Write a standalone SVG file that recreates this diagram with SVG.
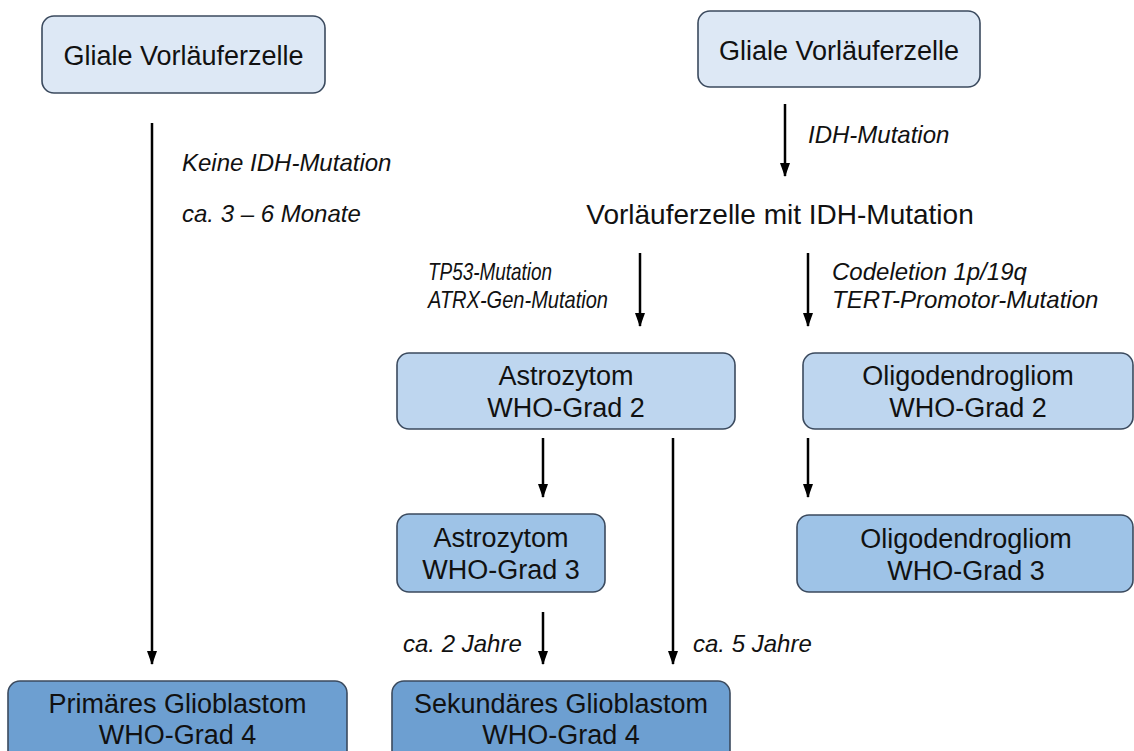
<svg xmlns="http://www.w3.org/2000/svg" width="1134" height="751" viewBox="0 0 1134 751">
<defs>
<marker id="ah" markerUnits="userSpaceOnUse" markerWidth="14" markerHeight="12" refX="13" refY="6" orient="auto" viewBox="0 0 14 12">
<path d="M0,1 L14,6 L0,11 Z" fill="#000"/>
</marker>
</defs>
<style>
.box{stroke:#3b4a5e;stroke-width:1.6}
.l0{fill:#dde8f5}
.l1{fill:#bed6ef}
.l2{fill:#9ec3e7}
.l3{fill:#6d9fd1}
.t{font-family:"Liberation Sans",Arial,sans-serif;font-size:27px;fill:#111;text-anchor:middle}
.lab{font-family:"Liberation Sans",Arial,sans-serif;font-size:24px;font-style:italic;fill:#111}
.arr{stroke:#000;stroke-width:2.5;fill:none}
</style>
<rect width="1134" height="751" fill="#fff"/>
<g id="n_glial_left">
<rect class="box l0" x="42" y="16" width="283" height="77" rx="12"/>
<text class="t" x="183.5" y="65">Gliale Vorläuferzelle</text>
</g>
<g id="n_glial_right">
<rect class="box l0" x="698" y="11" width="282" height="76" rx="12"/>
<text class="t" x="839" y="60">Gliale Vorläuferzelle</text>
</g>
<g id="n_idh">
<text class="t" x="780" y="224" style="font-size:28px">Vorläuferzelle mit IDH-Mutation</text>
</g>
<g id="n_astro2">
<rect class="box l1" x="397" y="353" width="338" height="76" rx="12"/>
<text class="t" x="566" y="385">Astrozytom</text>
<text class="t" x="566" y="417">WHO-Grad 2</text>
</g>
<g id="n_oligo2">
<rect class="box l1" x="803" y="353" width="330" height="76" rx="12"/>
<text class="t" x="968" y="385">Oligodendrogliom</text>
<text class="t" x="968" y="417">WHO-Grad 2</text>
</g>
<g id="n_astro3">
<rect class="box l2" x="397" y="514" width="208" height="78" rx="12"/>
<text class="t" x="501" y="547">Astrozytom</text>
<text class="t" x="501" y="579">WHO-Grad 3</text>
</g>
<g id="n_oligo3">
<rect class="box l2" x="797" y="515" width="336" height="77" rx="12"/>
<text class="t" x="966" y="548">Oligodendrogliom</text>
<text class="t" x="966" y="580">WHO-Grad 3</text>
</g>
<g id="n_prim">
<rect class="box l3" x="8" y="681" width="339" height="90" rx="12"/>
<text class="t" x="177.5" y="713">Primäres Glioblastom</text>
<text class="t" x="177.5" y="744">WHO-Grad 4</text>
</g>
<g id="n_sek">
<rect class="box l3" x="392" y="681" width="338" height="90" rx="12"/>
<text class="t" x="561" y="713">Sekundäres Glioblastom</text>
<text class="t" x="561" y="744">WHO-Grad 4</text>
</g>
<g id="connectors">
<line class="arr" x1="152" y1="123" x2="152" y2="664" marker-end="url(#ah)"/>
<line class="arr" x1="785" y1="104" x2="785" y2="176" marker-end="url(#ah)"/>
<line class="arr" x1="640" y1="253" x2="640" y2="326" marker-end="url(#ah)"/>
<line class="arr" x1="808" y1="253" x2="808" y2="326" marker-end="url(#ah)"/>
<line class="arr" x1="543" y1="438" x2="543" y2="497" marker-end="url(#ah)"/>
<line class="arr" x1="808" y1="438" x2="808" y2="497" marker-end="url(#ah)"/>
<line class="arr" x1="673" y1="438" x2="673" y2="664" marker-end="url(#ah)"/>
<line class="arr" x1="543" y1="612" x2="543" y2="664" marker-end="url(#ah)"/>
</g>
<g id="labels">
<text class="lab" x="182" y="171">Keine IDH-Mutation</text>
<text class="lab" x="182" y="222">ca. 3 – 6 Monate</text>
<text class="lab" x="808" y="143">IDH-Mutation</text>
<text class="lab" x="428" y="280" textLength="124" lengthAdjust="spacingAndGlyphs">TP53-Mutation</text>
<text class="lab" x="428" y="308" textLength="180" lengthAdjust="spacingAndGlyphs">ATRX-Gen-Mutation</text>
<text class="lab" x="832" y="280">Codeletion 1p/19q</text>
<text class="lab" x="832" y="308">TERT-Promotor-Mutation</text>
<text class="lab" x="403" y="652">ca. 2 Jahre</text>
<text class="lab" x="693" y="652">ca. 5 Jahre</text>
</g>
</svg>
